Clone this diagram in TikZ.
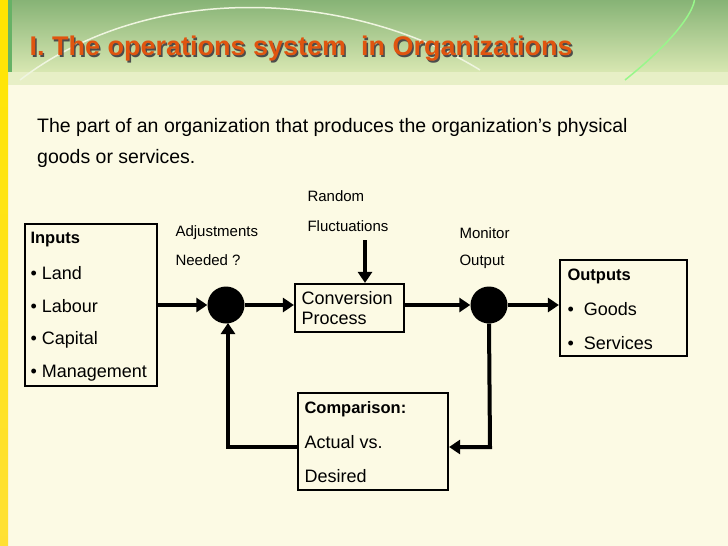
\documentclass[tikz,border=0pt]{standalone}
\usepackage{fontspec}
\setmainfont{Liberation Sans}
\usetikzlibrary{arrows.meta}
\definecolor{cream}{HTML}{FCFAE4}
\definecolor{band}{HTML}{D8E7B2}
\definecolor{titlec}{HTML}{E0550F}
\begin{document}
\begin{tikzpicture}[x=1pt,y=-1pt,
  box/.style={draw,line width=2.2pt,inner sep=0pt},
  lbl/.style={font=\fontsize{15}{18}\selectfont,anchor=west,align=left},
  txt/.style={font=\fontsize{18}{21}\selectfont,anchor=west},
  bt/.style={font=\bfseries\fontsize{16.5}{19}\selectfont,anchor=west},
  dot/.style={circle,fill=black,minimum size=37pt,inner sep=0pt},
  arr/.style={line width=4pt,-{Triangle[length=11pt,width=14pt]}}]
\useasboundingbox (0,0) rectangle (728,546);
\begin{scope}
\clip (0,0) rectangle (728,546);
\fill[cream] (0,0) rectangle (728,546);
\shade[top color=band!75!green!70!black!85,bottom color=band] (0,0) rectangle (728,72);
\fill[band!60!cream] (0,72) rectangle (728,85);
\draw[white!60!band,line width=1.5pt] (20,80) .. controls (150,-20) and (350,-10) .. (480,70);
\draw[band!50!green!70,line width=1.5pt] (625,80) .. controls (700,20) and (700,-10) .. (690,-5);
\shade[top color=yellow!80!orange,bottom color=yellow!70!orange!80] (0,0) rectangle (8,546);
\fill[green!50!black!60] (8,0) rectangle (12,72);
\end{scope}
\node[font=\bfseries\fontsize{27}{30}\selectfont,text=black!70,anchor=west] (shadow) at (27.5,50.5) {I. The operations system\ \ in Organizations};
\node[font=\bfseries\fontsize{27}{30}\selectfont,text=titlec,anchor=west] (title) at (26,49) {I. The operations system\ \ in Organizations};
\node[anchor=north west,align=left,font=\fontsize{19.5}{31}\selectfont,inner sep=0pt] (desc) at (37,118) {The part of an organization that produces the organization’s physical\\goods or services.};
\node[box,minimum width=132pt,minimum height=162pt] (in) at (91,305) {};
\node[bt] (i0) at (27,240) {Inputs};
\node[txt] (i1) at (27,273) {\textbullet\ Land};
\node[txt] (i2) at (27,306) {\textbullet\ Labour};
\node[txt] (i3) at (27,340) {\textbullet\ Capital};
\node[txt] (i4) at (27,373) {\textbullet\ Management};
\node[dot] (c1) at (226,305) {};
\node[dot] (c2) at (489,305) {};
\node[box,minimum width=109pt,minimum height=48pt] (conv) at (349.5,308) {};
\node[txt,align=left,font=\fontsize{18}{20}\selectfont] (convt) at (298,308) {Conversion\\Process};
\node[box,minimum width=127pt,minimum height=96pt] (out) at (623.5,308) {};
\node[bt] (o0) at (564,276) {Outputs};
\node[txt] (o1) at (564,309) {\textbullet\ \ Goods};
\node[txt] (o2) at (564,343) {\textbullet\ \ Services};
\node[box,minimum width=150pt,minimum height=97pt] (cmp) at (373,441.5) {};
\node[bt] (m0) at (301,409) {Comparison:};
\node[txt] (m1) at (301,442) {Actual vs.};
\node[txt] (m2) at (301,476) {Desired};
\node[lbl] (adj) at (172,233) {Adjustments};
\node[lbl] (need) at (172,260) {Needed ?};
\node[lbl] (rnd) at (304,196) {Random};
\node[lbl] (flu) at (304,226) {Fluctuations};
\node[lbl] (mon) at (456,233) {Monitor};
\node[lbl] (opt) at (456,262) {Output};
\coordinate (rtop) at (365,240);
\draw[arr] (in.east |- c1) -- (c1.west);
\draw[arr] (c1.east) -- (conv.west |- c1);
\draw[arr] (conv.east |- c2) -- (c2.west);
\draw[arr] (c2.east) -- (out.west |- c2);
\draw[arr] (rtop) -- (conv.north -| rtop);
\draw[arr] (cmp.west |- 0,447) -- (228,447) -- (228,323);
\draw[arr] (c2.south) -- (490,447) -- (cmp.east |- 0,447);
\end{tikzpicture}
\end{document}
